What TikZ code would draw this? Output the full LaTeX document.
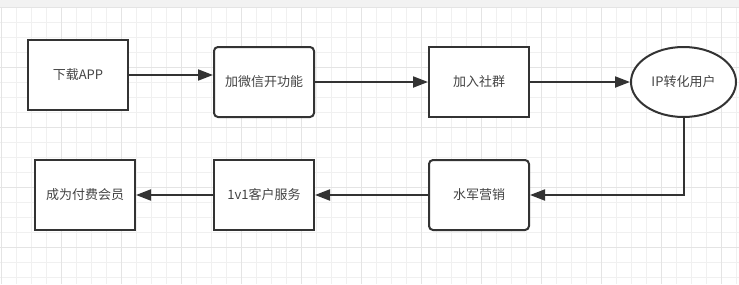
\documentclass[tikz,border=0pt]{standalone}
\usepackage{fontspec}
\setmainfont{Noto Sans CJK SC}
\usetikzlibrary{arrows.meta,shapes.geometric}
\definecolor{ink}{HTML}{333333}
\definecolor{txt}{HTML}{444444}
\definecolor{minorgrid}{HTML}{F0F0F0}
\definecolor{majorgrid}{HTML}{E4E4E4}
\definecolor{topbar}{HTML}{F2F2F2}
\tikzset{
  sqbox/.style={draw=ink,line width=2pt,fill=white,minimum width=100pt,minimum height=70pt,inner sep=0pt,text=txt,font=\fontsize{13pt}{15pt}\selectfont},
  rdbox/.style={sqbox,rounded corners=4pt},
  ovbox/.style={sqbox,ellipse,minimum width=105pt,minimum height=70pt},
  conn/.style={draw=ink,line width=2pt,-{Triangle[length=15pt,width=11pt]}},
}
\begin{document}
\begin{tikzpicture}[x=1pt,y=-1pt]
\useasboundingbox (0,0) rectangle (739,284);
\fill[white] (0,0) rectangle (739,284);
\fill[topbar] (0,0) rectangle (739,7);
\foreach \i in {0,...,49} {
  \pgfmathsetmacro{\xx}{1.7+15*\i}
  \draw[minorgrid,line width=1pt] (\xx,7) -- (\xx,284);
}
\foreach \i in {0,...,18} {
  \pgfmathsetmacro{\yy}{7.3+15*\i}
  \draw[minorgrid,line width=1pt] (0,\yy) -- (739,\yy);
}
\foreach \i in {0,...,12} {
  \pgfmathsetmacro{\xx}{1.7+60*\i}
  \draw[majorgrid,line width=1pt] (\xx,7) -- (\xx,284);
}
\foreach \i in {0,...,4} {
  \pgfmathsetmacro{\yy}{7.3+60*\i}
  \draw[majorgrid,line width=1pt] (0,\yy) -- (739,\yy);
}
\node[sqbox] (app) at (78,75) {下载APP};
\node[rdbox] (wx) at (264,82) {加微信开功能};
\node[sqbox] (sq) at (479,82) {加入社群};
\node[ovbox] (ip) at (683.5,82) {IP转化用户};
\node[rdbox] (sj) at (479,195) {水军营销};
\node[sqbox] (kf) at (264,195) {1v1客户服务};
\node[sqbox] (hy) at (85,195) {成为付费会员};
\coordinate (wxin) at (wx.west |- app.east);
\draw[conn] (app.east) -- (wxin);
\draw[conn] (wx.east) -- (sq.west);
\draw[conn] (sq.east) -- (ip.west);
\draw[conn] (ip.south) |- (sj.east);
\draw[conn] (sj.west) -- (kf.east);
\draw[conn] (kf.west) -- (hy.east);
\end{tikzpicture}
\end{document}
